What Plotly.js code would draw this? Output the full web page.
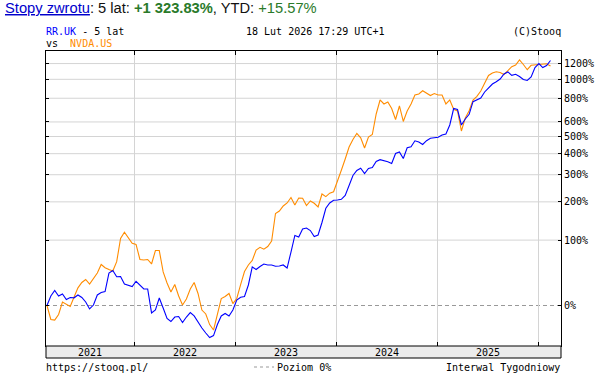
<!DOCTYPE html>
<html><head><meta charset="utf-8">
<script src="https://cdn.plot.ly/plotly-3.0.1.min.js"></script>
<style>html,body{margin:0;padding:0;background:#fff}#chart{width:597px;height:374px}</style>
</head><body><div id="chart"></div>
<script>
// Weekly chart (Interwal Tygodniowy) sampled every two weeks from the first close
const startDate = '2021-02-19';
const stepDays = 14;

// RR.UK return since start, %
const rrUK = [
  0, 10.6, 17.2, 10.6, 13.0, 6.6, 8.9, 8.5, 11.8, 8.9,
  3.8, -3.6, 0.5, 11.8, 14.8, 15.8, 41.1, 45.0, 35.7, 36.0,
  25.6, 24.3, 22.3, 29.3, 24.3, 19.1, 19.1, -7.6, -4.7, 8.3,
  -2.6, -12.9, -15.6, -11.5, -11.0, -16.5, -11.5, -7.2, -10.5, -16.5,
  -21.2, -25.3, -28.8, -27.3, -18.3, -10.5, -8.1, -10.5, -4.7, 6.0,
  9.1, 10.0, 24.3, 50.4, 46.5, 51.2, 55.3, 53.7, 53.7, 51.6,
  52.0, 53.7, 48.8, 76.3, 110.1, 106.8, 125.0, 127.4, 121.4, 107.9,
  111.2, 141.1, 180.3, 196.5, 205.1, 206.1, 208.3, 221.0, 260.6, 296.8,
  318.4, 328.3, 305.3, 327.4, 331.9, 360.3, 369.1, 365.2, 359.3, 350.6,
  401.0, 409.0, 375.1, 432.2, 437.8, 473.2, 465.9, 451.1, 473.8, 488.6,
  490.4, 494.8, 509.5, 516.0, 577.7, 707.2, 698.7, 577.7, 622.3, 659.2,
  767.8, 788.2, 802.5, 861.6, 903.2, 946.6, 972.4, 1003.5, 1063.6, 1089.8,
  1047.7, 1059.9, 1033.1, 997.6, 986.1, 1027.2, 1146.6, 1200.7, 1146.6, 1173.5,
  1242.8
];

// NVDA.US return since start, %
const nvdaUS = [
  0, -13.8, -14.3, -9.1, 3.8, 1.6, -1.1, 9.4, 20.6, 27.6,
  31.8, 25.6, 33.5, 41.1, 54.5, 49.3, 46.5, 44.2, 59.1, 103.5,
  117.3, 103.9, 93.4, 91.0, 62.9, 62.0, 62.9, 55.3, 79.1, 79.1,
  42.7, 26.9, 15.4, 24.9, 10.6, 0.5, 7.1, 19.1, 27.6, 13.6,
  -4.7, -8.6, -18.3, -22.9, -7.6, 7.7, 10.0, 13.6, 2.1, 7.7,
  24.9, 43.4, 53.7, 61.2, 80.1, 85.3, 81.6, 86.9, 98.2, 165.3,
  172.4, 187.2, 196.5, 214.3, 190.2, 212.6, 211.6, 188.7, 202.8, 195.5,
  184.2, 226.2, 217.0, 228.9, 233.9, 270.3, 319.3, 372.6, 436.7, 481.1,
  519.3, 491.7, 431.0, 496.7, 512.7, 661.6, 783.5, 746.8, 765.0, 707.2,
  618.4, 729.1, 603.4, 686.1, 746.8, 831.4, 841.3, 873.9, 848.3, 826.5,
  846.3, 831.4, 831.4, 746.8, 783.5, 700.4, 686.1, 535.9, 630.0, 688.6,
  783.5, 818.6, 871.8, 952.2, 1045.3, 1076.1, 1091.1, 1082.3, 1057.5, 1105.0,
  1157.4, 1180.2, 1250, 1187.0, 1117.8, 1176.2, 1183.0, 1189.8, 1189.8, 1198.0,
  1166.8
];

const yearLabels = ['2021', '2022', '2023', '2024', '2025'];
const yearTicks = ['2022-01-01', '2023-01-01', '2024-01-01', '2025-01-01', '2026-01-01'];
const yTickPct = [0, 100, 200, 300, 400, 500, 600, 800, 1000, 1200];
const yTickText = ['0%', '100%', '200%', '300%', '400%', '500%', '600%', '800%', '1000%', '1200%'];

// ---- derived ----
const dayMs = 86400000;
const t0 = Date.parse(startDate + 'T00:00:00Z');
const dates = rrUK.map((_, i) => new Date(t0 + i * stepDays * dayMs).toISOString().slice(0, 10));
const toRatio = p => 1 + p / 100;

const xRange = ['2021-02-15 12:00', '2026-03-23'];
const yRange = [-0.18646, 1.17173]; // log10 of (1 + r)

const W = 597, H = 374, ML = 46, MR = 36, MT = 51, MB = 28;
const PW = W - ML - MR, PH = H - MT - MB;
const px2x = p => (p - ML) / PW;
const px2y = p => (H - MB - p) / PH;
const mono = 'DejaVu Sans Mono, monospace';

const shapes = [];
// horizontal grid from tick values
yTickPct.forEach(p => {
  const yp = (Math.log10(toRatio(p)) - yRange[0]) / (yRange[1] - yRange[0]);
  shapes.push({
    type: 'line', xref: 'paper', yref: 'paper', x0: 0, x1: 1, y0: yp, y1: yp, layer: 'below',
    line: p === 0 ? {color: '#999999', width: 1, dash: '4px,3px'} : {color: '#d4d4d4', width: 1}
  });
});
// date band under the plot
shapes.push({
  type: 'rect', xref: 'paper', yref: 'paper', x0: 0, x1: 1, y0: px2y(358), y1: 0,
  fillcolor: '#ececec', line: {color: '#000', width: 1}
});
// legend dash for "Poziom 0%"
shapes.push({
  type: 'line', xref: 'paper', yref: 'paper', x0: px2x(254), x1: px2x(274), y0: px2y(367), y1: px2y(367),
  line: {color: '#999999', width: 1, dash: '3px,3px'}
});

const annotations = [];
const rs = Date.parse(xRange[0].replace(' ', 'T') + 'Z'), re = Date.parse(xRange[1] + 'T00:00:00Z');
yearLabels.forEach(y => {
  const a = Math.max(Date.parse(y + '-01-01T00:00:00Z'), rs);
  const b = Math.min(Date.parse((+y + 1) + '-01-01T00:00:00Z'), re);
  const c = new Date((a + b) / 2).toISOString().slice(0, 16).replace('T', ' ');
  annotations.push({x: c, xref: 'x', y: px2y(352.3), yref: 'paper', text: y, showarrow: false,
    xanchor: 'center', yanchor: 'middle', font: {family: mono, size: 10, color: '#000'}, borderpad: 0});
});
function txt(text, px, py, anchor, font) {
  annotations.push({x: px2x(px), y: px2y(py), xref: 'paper', yref: 'paper', text: text, showarrow: false,
    xanchor: anchor, yanchor: 'middle', borderpad: 0, font: font || {family: mono, size: 10, color: '#000'}});
}
txt('<span style="color:#0000cc"><u>Stopy zwrotu</u></span>: 5 lat: <b><span style="color:#2a7a2a">+1 323.83%</span></b>, YTD: <span style="color:#2a7a2a">+15.57%</span>',
    4, 8, 'left', {family: 'Liberation Sans, Arial, sans-serif', size: 14.7, color: '#111'});
txt('<span style="color:#0000ff">RR.UK</span> - 5 lat', 45, 31.5, 'left');
txt('18 Lut 2026 17:29 UTC+1', 245, 31.5, 'left');
txt('(C)Stooq', 562, 31.5, 'right');
txt('vs\u00a0\u00a0<span style="color:#ff8c00">NVDA.US</span>', 45, 43.5, 'left');
txt('https://stooq.pl/', 45, 367, 'left');
txt('Poziom 0%', 276, 367, 'left');
txt('Interwal Tygodniowy', 561, 367, 'right');

const traces = [
  {x: dates, y: nvdaUS.map(toRatio), type: 'scatter', mode: 'lines', name: 'NVDA.US',
   line: {color: '#ff8c00', width: 1.1}, hoverinfo: 'skip'},
  {x: dates, y: rrUK.map(toRatio), type: 'scatter', mode: 'lines', name: 'RR.UK',
   line: {color: '#0000ff', width: 1.1}, hoverinfo: 'skip'}
];

const layout = {
  width: W, height: H, margin: {l: ML, r: MR, t: MT, b: MB, pad: 0},
  paper_bgcolor: '#fff', plot_bgcolor: '#fff', showlegend: false,
  xaxis: {type: 'date', range: xRange, tickmode: 'array', tickvals: yearTicks, showticklabels: false,
    ticks: 'inside', ticklen: 4, tickcolor: '#000', showline: true, linecolor: '#000', linewidth: 1,
    mirror: 'ticks', showgrid: true, gridcolor: '#d4d4d4', gridwidth: 1, zeroline: false, fixedrange: true},
  yaxis: {type: 'log', range: yRange, side: 'right', tickmode: 'array', tickvals: yTickPct.map(toRatio),
    ticktext: yTickText, ticks: 'inside', ticklen: 3, tickcolor: '#000', showline: true, linecolor: '#000',
    linewidth: 1, mirror: 'ticks', showgrid: false, zeroline: false, fixedrange: true,
    tickfont: {family: mono, size: 10, color: '#000'}},
  shapes: shapes, annotations: annotations
};

Plotly.newPlot('chart', traces, layout, {staticPlot: true, displayModeBar: false});
</script>
</body></html>
